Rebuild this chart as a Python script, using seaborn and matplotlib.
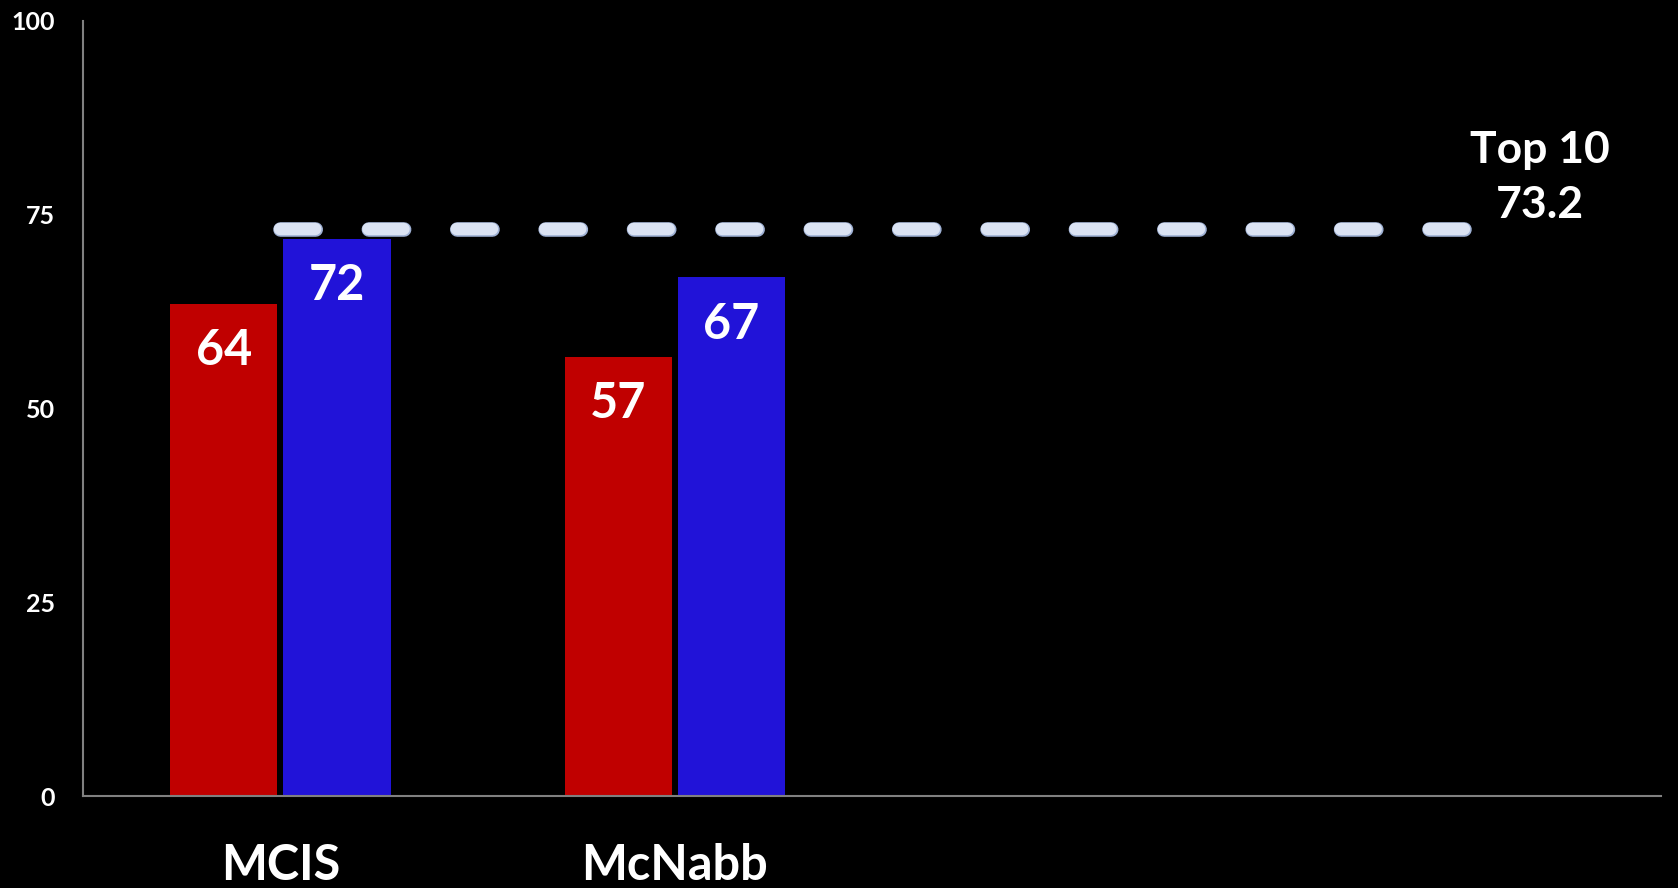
import pandas as pd
import matplotlib
matplotlib.use("Agg")
import matplotlib.pyplot as plt
import matplotlib.patheffects as pe
import seaborn as sns

# Datos del gráfico
categorias = ["MCIS", "McNabb"]
series = ["Serie 1", "Serie 2"]
valores_rojo = [63.5, 56.6]
valores_azul = [71.9, 66.9]
top10 = 73.2
top10_texto = "Top 10\n73.2"
ticks_y = [0, 25, 50, 75, 100]

colores = ["#C00000", "#2113D8"]

df = pd.DataFrame({
    "categoria": categorias * 2,
    "serie": [series[0]] * len(categorias) + [series[1]] * len(categorias),
    "valor": valores_rojo + valores_azul,
})

sns.set_theme(style="white")
plt.rcParams["font.family"] = ["Lato", "DejaVu Sans"]
plt.rcParams["font.weight"] = "bold"

fig = plt.figure(figsize=(16.78, 8.88), dpi=100, facecolor="black")
ax = fig.add_axes([0.0495, 0.1036, 0.9404, 0.8728])
ax.set_facecolor("black")

sns.barplot(data=df, x="categoria", y="valor", hue="serie", order=categorias,
            hue_order=series, palette=colores, width=0.573, gap=0.05,
            saturation=1, legend=False, linewidth=0, edgecolor="none", ax=ax)

# Etiquetas dentro de las barras
for cont in ax.containers:
    for barra in cont:
        ax.annotate(f"{barra.get_height():.0f}",
                    xy=(barra.get_x() + barra.get_width() / 2, barra.get_height()),
                    xytext=(0, -44), textcoords="offset points",
                    ha="center", va="baseline", color="white",
                    fontsize=35, fontweight="bold")

# Línea de referencia Top 10
ax.hlines(top10, 0, 3, colors="#dbe3f3", linewidth=8.9,
          linestyles=(0, (2.85, 4.3)), capstyle="round",
          path_effects=[pe.Stroke(linewidth=10.5, foreground="#9fb1d4"), pe.Normal()])
ax.annotate(top10_texto, xy=(3, top10), xytext=(55, 8), textcoords="offset points",
            ha="center", va="baseline", color="white", fontsize=32,
            fontweight="bold", linespacing=1.45, multialignment="center")

ax.set_xlim(-0.5, 3.5)
ax.set_ylim(0, 100)
ax.set_yticks(ticks_y)
ax.set_xlabel("")
ax.set_ylabel("")
ax.tick_params(axis="y", length=0, pad=20, labelsize=18, labelcolor="white")
ax.tick_params(axis="x", length=0, pad=34, labelsize=35, labelcolor="white")
for lbl in ax.get_xticklabels() + ax.get_yticklabels():
    lbl.set_fontweight("bold")

for lado in ["top", "right"]:
    ax.spines[lado].set_visible(False)
for lado in ["left", "bottom"]:
    ax.spines[lado].set_color("#808080")
    ax.spines[lado].set_linewidth(1.5)

fig.savefig("out.png", dpi=100, facecolor="black")
